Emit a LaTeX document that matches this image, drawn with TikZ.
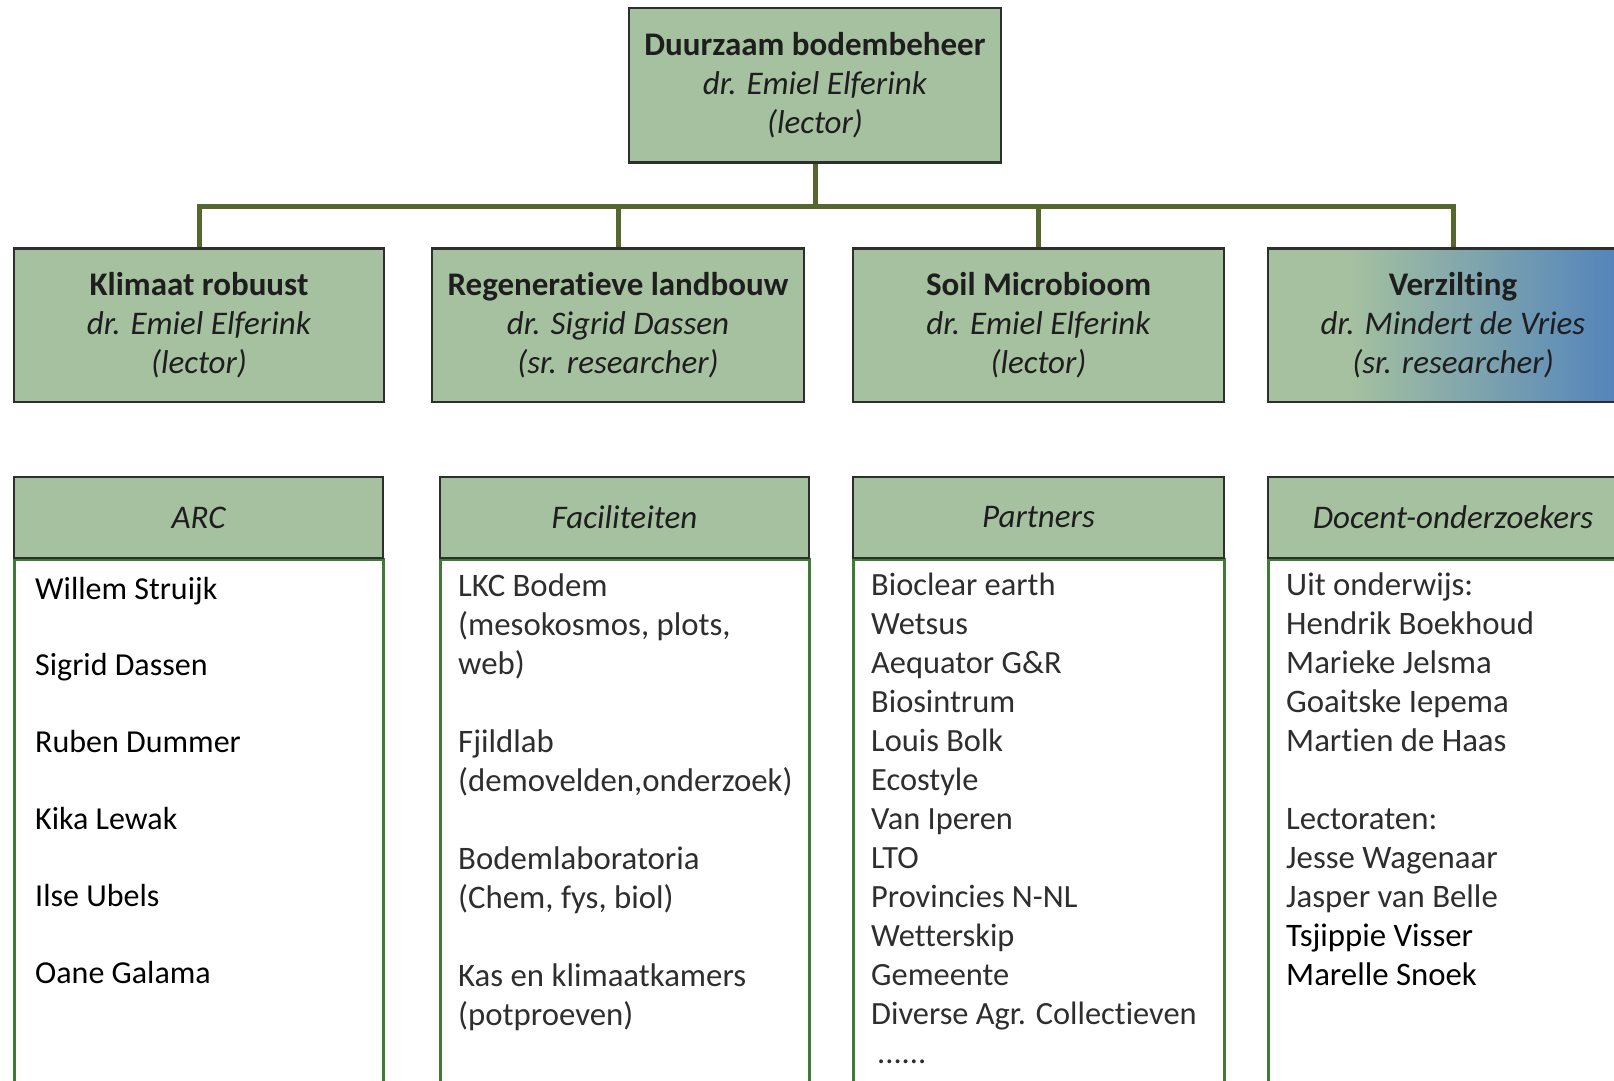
\documentclass[tikz,border=0pt]{standalone}
\usepackage{fontspec}
\setmainfont[Ligatures={NoCommon}]{Carlito}
\definecolor{cgreen}{HTML}{A5C1A0}
\definecolor{cblue}{HTML}{4F81BD}
\definecolor{cline}{HTML}{56662F}
\definecolor{cborder}{HTML}{2E2E2E}
\definecolor{cbody}{HTML}{3E7B34}
\definecolor{ctext}{HTML}{1E1E1E}
\definecolor{cgray}{HTML}{2E2E2E}
\pgfdeclarehorizontalshading{verzshade}{100bp}{color(0bp)=(cgreen); color(36bp)=(cgreen); color(74bp)=(cblue); color(100bp)=(cblue)}
\newcommand{\boxfont}{\fontsize{33}{39}\selectfont}
\newcommand{\arcfont}{\fontsize{32}{39}\selectfont}
\newcommand{\parfont}{\fontsize{32.4}{39}\selectfont}
\newcommand{\bodyfont}{\fontsize{32.8}{39}\selectfont}
\begin{document}
\begin{tikzpicture}[x=1pt,y=-1pt,
  gbox/.style={draw=cborder, fill=cgreen, line width=2pt, text=ctext, align=center, inner sep=0pt, font=\boxfont},
  lvltwo/.style={gbox, minimum height=153pt},
  header/.style={gbox, minimum height=81pt, font=\boxfont\itshape},
  bodybox/.style={draw=cbody, fill=white, line width=3pt, minimum height=600pt, anchor=north, inner sep=0pt},
  bodytext/.style={anchor=base west, inner sep=0pt, font=\bodyfont, text=cgray},
  connline/.style={draw=cline, line width=5pt, line join=miter}]
\clip (0,0) rectangle (1614,1081);
\fill[white] (0,0) rectangle (1614,1081);

% top and second level boxes
\node[gbox, minimum width=372pt, minimum height=154pt] (top) at (815,85)
  {\textbf{Duurzaam bodembeheer}\\\textit{dr. Emiel Elferink}\\\textit{(lector)}};
\coordinate (bus) at (815,206);
\node[lvltwo, minimum width=370pt] (k1) at (199,325.5)
  {\textbf{Klimaat robuust}\\\textit{dr. Emiel Elferink}\\\textit{(lector)}};
\node[lvltwo, minimum width=372pt] (k2) at (618,325.5)
  {\textbf{Regeneratieve landbouw}\\\textit{dr. Sigrid Dassen}\\\textit{(sr. researcher)}};
\node[lvltwo, minimum width=371pt] (k3) at (1038.5,325.5)
  {\textbf{Soil Microbioom}\\\textit{dr. Emiel Elferink}\\\textit{(lector)}};
\node[lvltwo, minimum width=370pt, shading=verzshade] (k4) at (1453,325.5)
  {\textbf{Verzilting}\\\textit{dr. Mindert de Vries}\\\textit{(sr. researcher)}};

% connectors
\draw[connline] (top.south) -- (bus);
\draw[connline] (k1.north) -- (k1.north |- bus) -- (k4.north |- bus) -- (k4.north);
\draw[connline] (k2.north) -- (k2.north |- bus);
\draw[connline] (k3.north) -- (k3.north |- bus);
% redraw borders over connector ends
\draw[cborder, line width=2pt] (top.south west) -- (top.south east);
\foreach \k in {k1,k2,k3,k4} \draw[cborder, line width=2pt] (\k.north west) -- (\k.north east);

% column bodies
\node[bodybox, minimum width=369pt] (b1) at (198.5,558) {};
\node[bodybox, minimum width=369pt] (b2) at (624.5,558) {};
\node[bodybox, minimum width=371pt] (b3) at (1038.5,558) {};
\node[bodybox, minimum width=370pt] (b4) at (1453,558) {};

% column headers
\node[header, minimum width=369pt] (h1) at (198.5,517.5) {ARC};
\node[header, minimum width=369pt] (h2) at (624.5,517.5) {Faciliteiten};
\node[header, minimum width=371pt] (h3) at (1038.5,517.5) {Partners};
\node[header, minimum width=370pt] (h4) at (1453,517.5) {Docent-onderzoekers};

% ARC
\foreach \t [count=\i from 0] in {Willem Struijk, Sigrid Dassen, Ruben Dummer, Kika Lewak, Ilse Ubels, Oane Galama}
  \node[bodytext, font=\arcfont, text=black] (arc\i) at (35,599+76.8*\i) {\t};

% Faciliteiten
\foreach \n/\t in {0/LKC Bodem, 1/{(mesokosmos, plots,}, 2/{web)}, 4/Fjildlab, 5/{(demovelden,onderzoek)},
  7/Bodemlaboratoria, 8/{(Chem, fys, biol)}, 10/Kas en klimaatkamers, 11/{(potproeven)}}
  \node[bodytext] (fac\n) at (458,596+39*\n) {\t};

% Partners
\foreach \t [count=\i from 0] in {Bioclear earth, Wetsus, Aequator G\&R, Biosintrum, Louis Bolk, Ecostyle,
  Van Iperen, LTO, Provincies N-NL, Wetterskip, Gemeente, Diverse Agr. Collectieven}
  \node[bodytext, font=\parfont] (par\i) at (871,595+39*\i) {\t};
\node[bodytext, font=\parfont] (pardots) at (877,1063) {......};

% Docent-onderzoekers
\foreach \n/\t in {0/Uit onderwijs:, 1/Hendrik Boekhoud, 2/Marieke Jelsma, 3/Goaitske Iepema, 4/Martien de Haas,
  6/Lectoraten:, 7/Jesse Wagenaar, 8/Jasper van Belle}
  \node[bodytext] (doc\n) at (1286,595+39*\n) {\t};
\foreach \n/\t in {9/Tsjippie Visser, 10/Marelle Snoek}
  \node[bodytext, text=black] (doc\n) at (1286,595+39*\n) {\t};
\end{tikzpicture}
\end{document}
